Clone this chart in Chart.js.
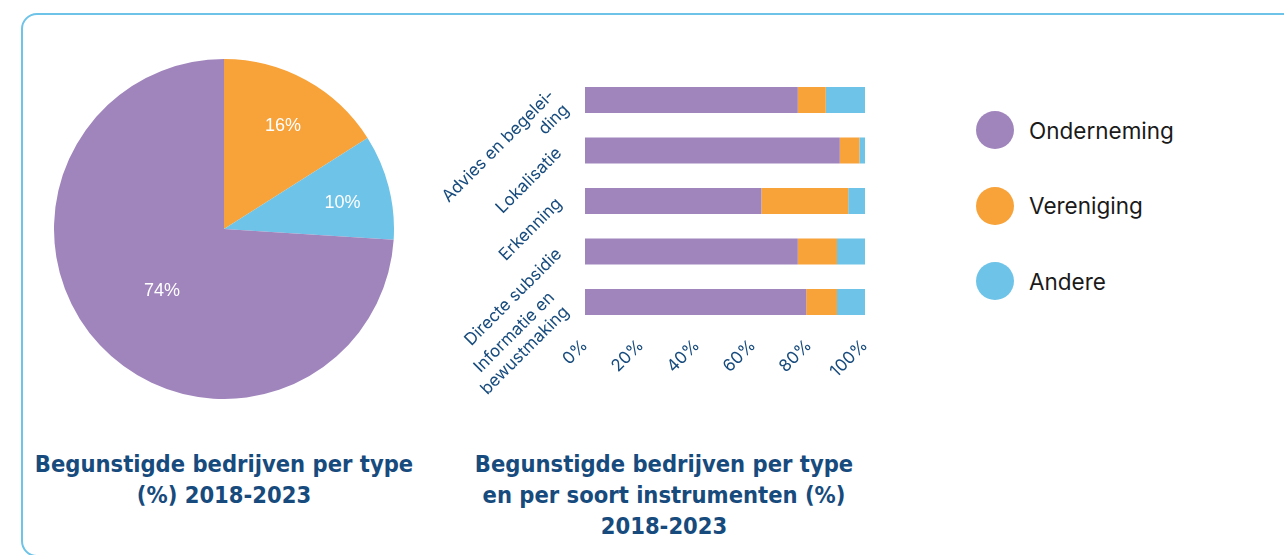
<!DOCTYPE html>
<html>
<head>
<meta charset="utf-8">
<script src="https://cdn.jsdelivr.net/npm/chart.js@4.4.1/dist/chart.umd.min.js"></script>
<style>
    body {
        margin: 0;
        width: 1284px;
        height: 555px;
        overflow: hidden;
        background: #fff;
        position: relative;
    }
    .box {
        position: absolute;
        left: 21px;
        top: 13px;
        width: 1300px;
        height: 540px;
        border: 2.5px solid #6ec3e8;
        border-radius: 16px;
    }
    #pieChart { position: absolute; left: 54px; top: 59px; }
    #barChart { position: absolute; left: 420px; top: 55px; }
    .title {
        position: absolute;
        top: 449px;
        text-align: center;
        font-family: "DejaVu Sans Condensed", "DejaVu Sans", sans-serif;
        font-weight: bold;
        font-size: 23.5px;
        line-height: 31px;
        color: #174b7d;
    }
    #legend {
        position: absolute;
        left: 976px;
        top: 111px;
        font-family: Inter, "Noto Sans", sans-serif;
        font-size: 22.5px;
        color: #1a1a1a;
    }
    .legend-item {
        display: flex;
        align-items: center;
        height: 38px;
        margin-bottom: 37.5px;
    }
    .legend-dot {
        width: 38px;
        height: 38px;
        border-radius: 50%;
        margin-right: 15px;
    }
</style>
</head>
<body>
<div class="box"></div>
<canvas id="pieChart" width="340" height="340"></canvas>
<canvas id="barChart" width="470" height="360"></canvas>
<div class="title" style="left:14px; width:420px;">Begunstigde bedrijven per type<br>(%) 2018-2023</div>
<div class="title" style="left:454px; width:420px;">Begunstigde bedrijven per type<br>en per soort instrumenten (%)<br>2018-2023</div>
<div id="legend"></div>

<script>
// data
const types = ['Onderneming', 'Vereniging', 'Andere'];
const typeColors = ['#a085bd', '#f8a23a', '#6ec3e8'];

// pie starts at the top with Vereniging, clockwise
const pieLabels = ['Vereniging', 'Andere', 'Onderneming'];
const pieValues = [16, 10, 74];

const instruments = [
    ['Advies en begelei-', 'ding'],
    'Lokalisatie',
    'Erkenning',
    'Directe subsidie',
    ['Informatie en', 'bewustmaking']
];
const onderneming = [76, 91, 63, 76, 79];
const vereniging = [10, 7, 31, 14, 11];
const andere = [14, 2, 6, 10, 10];

const xTicks = [0, 20, 40, 60, 80, 100];

const tickColor = '#174b7d';

// labels inside pie slices
const pieLabelPlugin = {
    id: 'pieLabels',
    afterDatasetsDraw(chart) {
        const ctx = chart.ctx;
        const meta = chart.getDatasetMeta(0);
        ctx.save();
        ctx.font = '18px "Liberation Sans", sans-serif';
        ctx.fillStyle = '#ffffff';
        ctx.textAlign = 'center';
        ctx.textBaseline = 'middle';
        meta.data.forEach((arc, i) => {
            const p = arc.getProps(['x', 'y', 'startAngle', 'endAngle', 'outerRadius'], true);
            const mid = (p.startAngle + p.endAngle) / 2;
            const r = p.outerRadius * (pieValues[i] > 50 ? 0.5 : 0.72);
            ctx.fillText(pieValues[i] + '%', p.x + Math.cos(mid) * r, p.y + Math.sin(mid) * r + 4);
        });
        ctx.restore();
    }
};

const pieChart = new Chart(document.getElementById('pieChart'), {
    type: 'pie',
    data: {
        labels: pieLabels,
        datasets: [{
            data: pieValues,
            backgroundColor: pieLabels.map(l => typeColors[types.indexOf(l)]),
            borderWidth: 0
        }]
    },
    options: {
        responsive: false,
        animation: false,
        plugins: {
            legend: { display: false },
            tooltip: { enabled: false }
        }
    },
    plugins: [pieLabelPlugin]
});

const tickFont = { family: 'Inter, "Noto Sans", sans-serif', size: 17 };

const barChart = new Chart(document.getElementById('barChart'), {
    type: 'bar',
    data: {
        labels: instruments,
        datasets: [
            { label: types[0], data: onderneming, backgroundColor: typeColors[0] },
            { label: types[1], data: vereniging, backgroundColor: typeColors[1] },
            { label: types[2], data: andere, backgroundColor: typeColors[2] }
        ]
    },
    options: {
        indexAxis: 'y',
        responsive: false,
        animation: false,
        layout: { padding: { top: 19.75, right: 25, left: 0, bottom: 0 } },
        datasets: {
            bar: { categoryPercentage: 1, barPercentage: 0.515, borderWidth: 0 }
        },
        scales: {
            x: {
                stacked: true,
                min: 0,
                max: 100,
                afterBuildTicks: (scale) => {
                    scale.ticks = xTicks.map(v => ({ value: v }));
                },
                ticks: {
                    color: tickColor,
                    font: tickFont,
                    padding: 0,
                    autoSkip: false,
                    minRotation: 45,
                    maxRotation: 45,
                    callback: (v) => v + '%'
                },
                grid: { display: false },
                border: { display: false },
                afterFit: (scale) => {
                    scale.height = 87.75;
                    scale.paddingLeft = 0;
                    scale.paddingRight = 0;
                }
            },
            y: {
                stacked: true,
                ticks: {
                    color: tickColor,
                    font: tickFont,
                    padding: 18,
                    autoSkip: false,
                    minRotation: 45,
                    maxRotation: 45
                },
                grid: { display: false },
                border: { display: false },
                afterFit: (scale) => {
                    scale.width = 165;
                    scale.paddingTop = 0;
                    scale.paddingBottom = 0;
                }
            }
        },
        plugins: {
            legend: { display: false },
            tooltip: { enabled: false }
        }
    }
});

// legend built from the bar datasets
const legend = document.getElementById('legend');
barChart.data.datasets.forEach(ds => {
    const item = document.createElement('div');
    item.className = 'legend-item';
    const dot = document.createElement('span');
    dot.className = 'legend-dot';
    dot.style.background = ds.backgroundColor;
    const txt = document.createElement('span');
    txt.innerText = ds.label;
    item.appendChild(dot);
    item.appendChild(txt);
    legend.appendChild(item);
});
</script>
</body>
</html>
